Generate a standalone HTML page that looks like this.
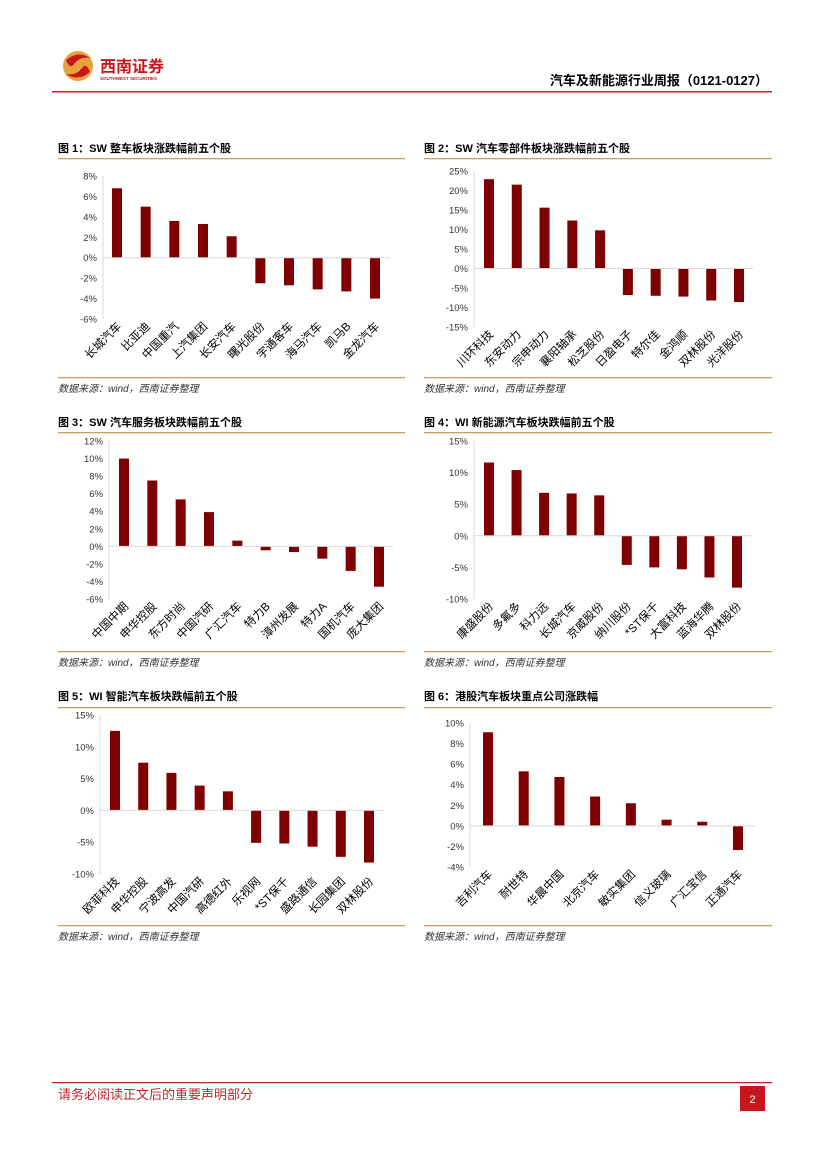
<!DOCTYPE html>
<html><head><meta charset="utf-8">
<style>
body{margin:0;background:#fff;}
#page{position:relative;width:827px;height:1169px;overflow:hidden;background:#fff;font-family:"Liberation Sans","Noto Sans CJK SC",sans-serif;}
svg text{font-family:"Liberation Sans","Noto Sans CJK SC",sans-serif;}
</style></head>
<body>
<div id="page">
<svg id="svg" width="827" height="1169" viewBox="0 0 827 1169">
  <g>
    <g>
      <circle cx="78" cy="66" r="15" fill="#e8a23a"/>
      <path d="M66,60 Q78,50 90,58 Q80,56 74,64 Q70,70 66,60Z" fill="#c8161d"/>
      <path d="M90,72 Q78,82 66,74 Q76,76 82,68 Q86,62 90,72Z" fill="#c8161d"/>
      <text x="100" y="72" font-size="16" font-weight="bold" fill="#c8161d" font-family="Noto Serif CJK SC,serif">西南证券</text>
      <text x="100" y="80" font-size="4.5" font-weight="bold" fill="#c8161d">SOUTHWEST SECURITIES</text>
    </g>
    <text x="768" y="85" text-anchor="end" font-size="13" font-weight="bold" fill="#000">汽车及新能源行业周报（0121-0127）</text>
    <rect x="52" y="91" width="720" height="1.5" fill="#c0272d"/>
  </g>
  <g id="charts"></g>
  <g>
    <rect x="52" y="1082" width="720" height="1.3" fill="#c0272d"/>
    <text x="58" y="1099" font-size="13" fill="#c0272d" font-family="Noto Serif CJK SC,serif">请务必阅读正文后的重要声明部分</text>
    <rect x="740" y="1086" width="25" height="25" fill="#c8161d"/>
    <text x="752.5" y="1103" text-anchor="middle" font-size="11" fill="#fff">2</text>
  </g>
</svg>
</div>
<script>
// Chart 1
const c1Cats = ["长城汽车","比亚迪","中国重汽","上汽集团","长安汽车","曙光股份","宇通客车","海马汽车","凯马B","金龙汽车"];
const c1Vals = [6.8,5.0,3.6,3.3,2.1,-2.5,-2.7,-3.1,-3.3,-4.0];
const c1Ticks = [8,6,4,2,0,-2,-4,-6];
// Chart 2
const c2Cats = ["川环科技","东安动力","宗申动力","襄阳轴承","松芝股份","日盈电子","特尔佳","金鸿顺","双林股份","光洋股份"];
const c2Vals = [22.9,21.5,15.6,12.3,9.8,-6.8,-7.0,-7.2,-8.2,-8.6];
const c2Ticks = [25,20,15,10,5,0,-5,-10,-15];
// Chart 3
const c3Cats = ["中国中期","申华控股","东方时尚","中国汽研","广汇汽车","特力B","漳州发展","特力A","国机汽车","庞大集团"];
const c3Vals = [10.0,7.5,5.35,3.9,0.65,-0.45,-0.65,-1.4,-2.8,-4.6];
const c3Ticks = [12,10,8,6,4,2,0,-2,-4,-6];
// Chart 4
const c4Cats = ["康盛股份","多氟多","科力远","长城汽车","京威股份","纳川股份","*ST保千","大富科技","蓝海华腾","双林股份"];
const c4Vals = [11.6,10.4,6.8,6.7,6.4,-4.6,-5.0,-5.3,-6.6,-8.2];
const c4Ticks = [15,10,5,0,-5,-10];
// Chart 5
const c5Cats = ["欧菲科技","申华控股","宁波高发","中国汽研","高德红外","乐视网","*ST保千","盛路通信","长园集团","双林股份"];
const c5Vals = [12.5,7.5,5.9,3.9,3.0,-5.1,-5.2,-5.7,-7.3,-8.2];
const c5Ticks = [15,10,5,0,-5,-10];
// Chart 6
const c6Cats = ["吉利汽车","耐世特","华晨中国","北京汽车","敏实集团","信义玻璃","广汇宝信","正通汽车"];
const c6Vals = [9.1,5.3,4.75,2.85,2.2,0.6,0.4,-2.35];
const c6Ticks = [10,8,6,4,2,0,-2,-4];

const NS="http://www.w3.org/2000/svg";
const root=document.getElementById('charts');
function mk(tag,attrs,parent){const e=document.createElementNS(NS,tag);for(const k in attrs)e.setAttribute(k,attrs[k]);parent.appendChild(e);return e;}

function drawChart(id,title,cats,vals,ticks,L){
  const g=mk('g',{},root);
  
  
  const tt=mk('text',{x:L.left,y:L.titleY,'font-size':11,'font-weight':'bold',fill:'#000'},g);
  tt.textContent=title;
  
  
  const r1=mk('rect',{x:L.left,y:L.titleLine,width:L.right-L.left,height:1.3,fill:'#c9a063'},g);
  
  
  const r2=mk('rect',{x:L.left,y:L.botLine,width:L.right-L.left,height:1.3,fill:'#c9a063'},g);
  
  
  const src=mk('text',{x:L.left,y:L.botLine+15,'font-size':10,'font-style':'italic',fill:'#333'},g);
  src.textContent='数据来源：wind，西南证券整理';
  
  
  const vmax=ticks[0],vmin=ticks[ticks.length-1];
  const y=v=>L.yTop+(vmax-v)/(vmax-vmin)*(L.yBot-L.yTop);
  const step=(L.lastX-L.firstX)/(cats.length-1);
  const x=i=>L.firstX+i*step;
  const ax=mk('line',{x1:L.axisX,x2:L.axisX,y1:L.yTop,y2:L.yBot,stroke:'#d9d9d9','stroke-width':1},g);
  
  
  ticks.forEach(t=>{
    const tx=mk('text',{x:L.axisX-6,y:y(t)+3.5,'text-anchor':'end','font-size':9.5,fill:'#333'},g);
    tx.textContent=t+'%';
    
    
  });
  vals.forEach((v,i)=>{
    const top=Math.min(y(v),y(0)),h=Math.abs(y(v)-y(0));
    const b=mk('rect',{x:x(i)-5,y:top,width:10,height:h,fill:'#7f0000'},g);
    
    
  });
  const z=mk('line',{x1:L.axisX,x2:L.zeroEnd,y1:y(0),y2:y(0),stroke:'#d9d9d9','stroke-width':1},g);
  
  
  cats.forEach((c,i)=>{
    const lx=x(i)+5,ly=L.yBot+8;
    const lb=mk('text',{x:lx,y:ly,'text-anchor':'end','font-size':11.5,fill:'#000',transform:`rotate(-45 ${lx} ${ly})`},g);
    lb.textContent=c;
    
    
  });
}
drawChart(1,'图 1：SW 整车板块涨跌幅前五个股',c1Cats,c1Vals,c1Ticks,{left:58,right:405,titleY:152,titleLine:158,botLine:377,axisX:103,yTop:176,yBot:319,firstX:117,lastX:375,zeroEnd:390});
drawChart(2,'图 2：SW 汽车零部件板块涨跌幅前五个股',c2Cats,c2Vals,c2Ticks,{left:424,right:772,titleY:152,titleLine:158,botLine:377,axisX:474,yTop:171,yBot:327,firstX:489,lastX:739,zeroEnd:753});
drawChart(3,'图 3：SW 汽车服务板块跌幅前五个股',c3Cats,c3Vals,c3Ticks,{left:58,right:405,titleY:426,titleLine:432,botLine:651,axisX:109,yTop:441,yBot:599,firstX:124,lastX:379,zeroEnd:393});
drawChart(4,'图 4：WI 新能源汽车板块跌幅前五个股',c4Cats,c4Vals,c4Ticks,{left:424,right:772,titleY:426,titleLine:432,botLine:651,axisX:474,yTop:441,yBot:599,firstX:489,lastX:737,zeroEnd:752});
drawChart(5,'图 5：WI 智能汽车板块跌幅前五个股',c5Cats,c5Vals,c5Ticks,{left:58,right:405,titleY:700,titleLine:707,botLine:925,axisX:100,yTop:715,yBot:874,firstX:115,lastX:369,zeroEnd:384});
drawChart(6,'图 6：港股汽车板块重点公司涨跌幅',c6Cats,c6Vals,c6Ticks,{left:424,right:772,titleY:700,titleLine:707,botLine:925,axisX:470,yTop:723,yBot:867,firstX:488,lastX:738,zeroEnd:755});
</script>
</body></html>
